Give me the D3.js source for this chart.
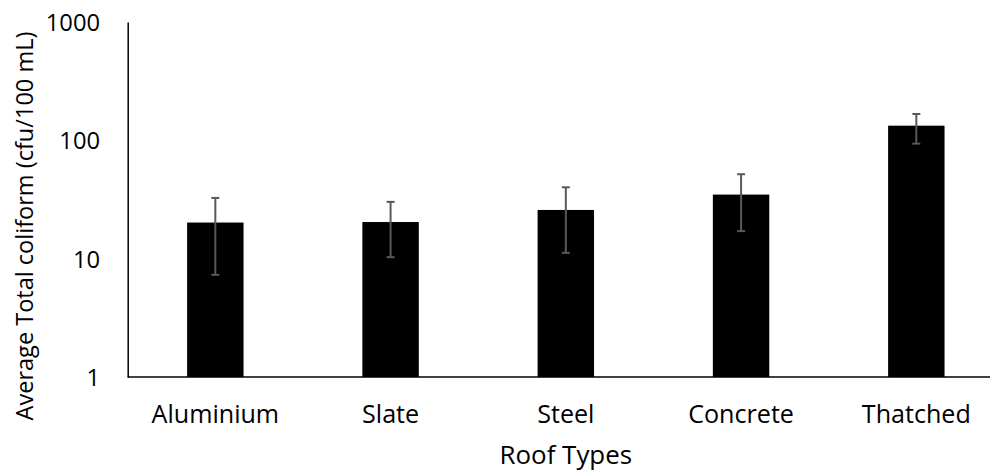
<!DOCTYPE html>
<html><head><meta charset="utf-8">
<script src="https://cdn.jsdelivr.net/npm/d3@7"></script>
<style>body{margin:0;background:#fff}svg{display:block}text{font-family:"Open Sans",sans-serif;fill:#000}</style>
</head><body><svg id="c" width="990" height="474"></svg>
<script>
const categories = ["Aluminium","Slate","Steel","Concrete","Thatched"];
const means = [20.2, 20.4, 25.8, 34.8, 133];
const errHigh = [32.6, 30.2, 40.1, 51.7, 167];
const errLow = [7.3, 10.3, 11.2, 17.1, 93.8];
const yTicks = [1, 10, 100, 1000];

const svg = d3.select("#c");
const mLeft = 127.7, mTop = 22, mBottom = 377;
const step = 175.25;
const x = d3.scaleBand().domain(categories).range([mLeft, mLeft + step*categories.length]).paddingInner(0.678).paddingOuter(0.339);
const y = d3.scaleLog().domain([1, 1000]).range([mBottom, mTop]);

const data = categories.map((c,i)=>({c, m:means[i], hi:errHigh[i], lo:errLow[i]}));

function fit(sel, target){
  sel.attr("font-size", 20);
  const w = sel.node().getComputedTextLength();
  sel.attr("font-size", 20*target/w);
  return 20*target/w;
}

svg.selectAll("rect.bar").data(data).join("rect").attr("class","bar")
  .attr("x", d=>x(d.c)).attr("width", x.bandwidth())
  .attr("y", d=>y(d.m)).attr("height", d=>mBottom - y(d.m))
  .attr("fill","#000");

const eg = svg.append("g").attr("stroke","#595959").attr("stroke-width",2);
data.forEach(d=>{
  const cx = x(d.c) + x.bandwidth()/2;
  eg.append("line").attr("x1",cx).attr("x2",cx).attr("y1",y(d.hi)).attr("y2",y(d.lo));
  eg.append("line").attr("x1",cx-4).attr("x2",cx+4).attr("y1",y(d.hi)).attr("y2",y(d.hi));
  eg.append("line").attr("x1",cx-4).attr("x2",cx+4).attr("y1",y(d.lo)).attr("y2",y(d.lo));
});

// y axis
const ya = svg.append("g").attr("transform",`translate(${mLeft},0)`)
  .call(d3.axisLeft(y).tickValues(yTicks).tickFormat(d3.format("d")).tickSize(0).tickPadding(27.7));
ya.select(".domain").attr("stroke","#000").attr("stroke-width",1.5);
const yt = ya.selectAll("text").attr("dy", null).attr("y", 8.5);
const ys = fit(yt.filter(d=>d===1000), 54.3);
yt.attr("font-size", ys);

// x axis
const xa = svg.append("g").attr("transform",`translate(0,${mBottom})`)
  .call(d3.axisBottom(x).tickSize(0));
xa.select(".domain").remove();
const xt = xa.selectAll("text").attr("dy", null).attr("y", 46.3);
const xs = fit(xt.filter(d=>d==="Aluminium"), 127.6);
xt.attr("font-size", xs);
svg.append("line").attr("x1",mLeft).attr("x2",990).attr("y1",mBottom).attr("y2",mBottom).attr("stroke","#000").attr("stroke-width",1.5);

const xTitle = svg.append("text").attr("x", mLeft + 2.5*step).attr("y", 464).attr("text-anchor","middle").text("Roof Types");
fit(xTitle, 132.7);
const yTitle = svg.append("text").attr("transform","translate(33,226) rotate(-90)").attr("text-anchor","middle").text("Average Total coliform (cfu/100 mL)");
fit(yTitle, 389);
</script></body></html>
